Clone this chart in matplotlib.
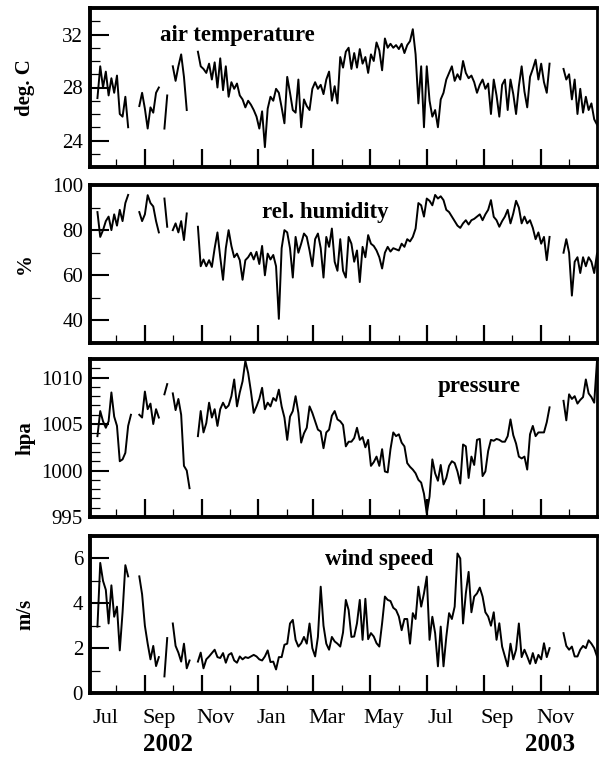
import numpy as np
import pandas as pd
import matplotlib
matplotlib.use('Agg')
import matplotlib.pyplot as plt
import matplotlib.dates as mdates
from matplotlib.ticker import MultipleLocator, NullFormatter
from matplotlib.transforms import blended_transform_factory

plt.rcParams['font.family'] = ['Liberation Serif', 'DejaVu Serif']

nan = np.nan
# samples every 3 days starting 2002-07-03
start = '2002-07-03'
step = '3D'

air_temp = [
    nan, nan, nan, 27.2, 29.6, 28.0, 29.2, 27.4, 28.7, 27.6,
    28.9, 26.0, 25.8, 27.3, 25.0, nan, nan, nan, 26.6, 27.6,
    26.4, 24.9, 26.5, 26.1, 27.6, 28.0, nan, 24.9, 27.4, nan,
    29.6, 28.5, 29.6, 30.5, 28.8, 26.3, nan, nan, nan, 30.7,
    29.6, 29.4, 29.1, 29.8, 28.6, 29.9, 28.0, 30.2, 27.8, 29.6,
    27.3, 28.4, 27.9, 28.3, 27.4, 27.1, 26.5, 27.0, 26.7, 26.3,
    25.8, 24.9, 26.2, 23.5, 26.4, 27.3, 27.0, 27.9, 27.6, 26.5,
    25.3, 28.8, 27.6, 26.3, 26.1, 28.6, 25.0, 27.1, 26.6, 26.3,
    27.9, 28.4, 27.9, 28.2, 27.5, 28.6, 29.2, 27.0, 28.1, 26.8,
    30.3, 29.5, 30.7, 31.0, 29.4, 30.6, 29.5, 30.9, 29.8, 30.3,
    29.1, 30.5, 30.0, 31.4, 30.8, 29.3, 31.7, 31.0, 31.3, 31.0,
    31.2, 30.9, 31.3, 30.6, 31.2, 31.5, 32.4, 30.5, 26.8, 29.6,
    25.0, 29.6, 27.0, 25.8, 26.3, 25.0, 27.1, 27.6, 28.6, 29.1,
    29.6, 28.5, 29.0, 28.6, 30.0, 29.1, 28.7, 28.9, 28.4, 27.6,
    28.2, 28.6, 27.9, 28.3, 26.0, 28.6, 27.4, 25.8, 28.2, 28.6,
    26.3, 28.6, 27.5, 26.0, 28.1, 29.6, 27.7, 26.5, 28.8, 29.4,
    30.1, 28.6, 29.8, 28.4, 27.6, 29.8, nan, nan, nan, nan,
    29.4, 28.6, 29.0, 27.1, 28.6, 26.0, 27.9, 26.1, 27.3, 26.3,
    26.8, 25.6, 25.2,
]

rel_humidity = [
    nan, nan, nan, 88, 77, 80, 84, 86, 80, 87,
    82, 89, 84, 92, 95.6, nan, nan, nan, 88, 84,
    87, 95.5, 92, 90.5, 84, 79, nan, 94, 81.5, nan,
    80, 83, 79, 84, 75.6, 87.4, nan, nan, nan, 81.5,
    64, 67, 64, 66.7, 63.7, 72, 79, 68, 58, 72,
    80, 73, 68, 69.6, 66.7, 58, 66.7, 68, 70, 67,
    70.4, 65, 73, 60, 69.6, 67, 69, 64, 40.7, 72,
    80, 79, 72, 59, 77, 70, 74, 78.5, 77, 71,
    64, 76, 78.5, 72, 59, 77, 72.6, 80.7, 66, 62,
    76, 62, 59, 77, 74, 66, 71, 57, 72.6, 68,
    77.8, 74, 73, 71, 68, 63, 70, 72.6, 70.5, 72,
    71.5, 71, 74, 72.6, 76, 75, 77, 80.7, 92, 91,
    86, 94, 93, 91, 95.6, 94, 95, 93.3, 89, 88,
    86, 84, 82, 81, 83, 84.4, 82.5, 84.4, 85, 86,
    87, 84.4, 87, 89, 93.3, 85.9, 84.4, 81.5, 84, 86,
    89, 83, 87.4, 93, 90, 83, 86, 83, 84.4, 81,
    76, 79, 74, 77, 66.7, 77, nan, nan, nan, nan,
    70, 76, 70, 51, 66, 68, 61, 68, 64, 68,
    66, 61, 69.6,
]

pressure = [
    nan, nan, nan, 1003.7, 1006.4, 1005.3, 1004.6, 1005.3, 1008.4, 1005.8,
    1004.8, 1001.0, 1001.2, 1001.9, 1004.8, 1006.0, nan, nan, 1006.0, 1005.7,
    1008.5, 1006.6, 1007.2, 1005.0, 1006.6, 1005.7, nan, 1008.2, 1009.3, nan,
    1008.3, 1006.5, 1007.7, 1006.0, 1000.5, 1000.0, 998.1, nan, nan, 1003.7,
    1006.4, 1004.1, 1005.1, 1007.3, 1005.7, 1006.6, 1004.8, 1006.6, 1007.3, 1006.7,
    1007.0, 1008.0, 1009.8, 1006.9, 1008.4, 1009.6, 1011.8, 1010.5, 1008.5, 1006.2,
    1006.9, 1007.7, 1008.9, 1006.6, 1007.3, 1006.9, 1007.8, 1007.5, 1008.7, 1006.9,
    1005.7, 1003.3, 1005.8, 1006.4, 1008.0, 1006.2, 1003.0, 1004.0, 1004.6, 1006.9,
    1006.2, 1005.3, 1004.4, 1004.2, 1002.4, 1004.1, 1004.4, 1005.9, 1006.4, 1005.5,
    1005.3, 1004.9, 1002.6, 1003.1, 1003.1, 1003.5, 1004.6, 1003.3, 1003.6, 1002.5,
    1003.3, 1000.5, 1000.9, 1001.5, 1000.5, 1002.3, 999.9, 999.8, 1002.3, 1004.1,
    1003.7, 1003.9, 1003.0, 1002.6, 1000.8, 1000.4, 1000.1, 999.7, 999.0, 998.7,
    997.5, 995.4, 997.2, 1001.2, 999.7, 998.9, 1000.6, 998.5, 999.2, 1000.5,
    1001.0, 1000.8, 999.9, 998.6, 1002.8, 1002.6, 999.2, 1001.5, 1000.6, 1003.3,
    1003.4, 999.4, 999.9, 1002.1, 1003.3, 1003.2, 1003.4, 1003.3, 1003.1, 1003.1,
    1003.7, 1005.5, 1003.8, 1002.9, 1001.5, 1001.3, 1001.5, 1000.1, 1003.9, 1004.8,
    1003.7, 1004.1, 1004.1, 1004.1, 1005.2, 1006.8, nan, nan, nan, nan,
    1007.5, 1005.4, 1008.2, 1007.7, 1008.0, 1007.2, 1007.6, 1007.9, 1009.8, 1008.3,
    1007.9, 1007.3, 1011.8,
]

wind_speed = [
    nan, nan, nan, 2.96, 5.8, 5.0, 4.6, 3.1, 4.8, 3.4,
    3.85, 1.9, 3.6, 5.7, 5.2, nan, nan, nan, 5.2, 4.4,
    3.0, 2.2, 1.5, 2.1, 1.2, 1.6, nan, 0.74, 2.45, nan,
    3.1, 2.1, 1.8, 1.4, 2.2, 1.1, 1.45, nan, nan, 1.4,
    1.8, 1.1, 1.5, 1.63, 1.78, 1.93, 1.6, 1.56, 1.78, 1.35,
    1.7, 1.78, 1.45, 1.35, 1.63, 1.5, 1.6, 1.56, 1.63, 1.7,
    1.63, 1.5, 1.45, 1.63, 1.9, 1.38, 1.4, 1.05, 1.6, 1.6,
    2.15, 2.2, 3.1, 3.26, 2.37, 2.07, 2.22, 2.5, 2.2, 3.1,
    2.0, 1.63, 2.5, 4.74, 3.0, 2.2, 1.93, 2.5, 2.3, 2.2,
    2.07, 2.7, 4.15, 3.7, 2.5, 2.52, 3.11, 4.15, 2.37, 4.2,
    2.4, 2.67, 2.52, 2.22, 2.07, 3.11, 4.3, 4.15, 4.1, 3.8,
    3.7, 3.41, 2.8, 3.3, 3.3, 2.2, 3.56, 3.3, 4.74, 3.85,
    4.44, 5.19, 2.37, 3.4, 2.67, 1.19, 2.96, 1.19, 2.5, 3.56,
    3.3, 3.85, 6.22, 6.0, 3.1, 4.44, 5.4, 3.6, 4.3, 4.44,
    4.7, 4.3, 3.6, 3.41, 3.0, 3.6, 2.37, 3.11, 2.07, 1.63,
    1.19, 2.2, 1.5, 1.93, 3.1, 1.6, 1.93, 1.63, 1.3, 1.78,
    1.33, 1.7, 1.5, 2.22, 1.6, 2.0, nan, nan, nan, nan,
    2.67, 2.1, 1.93, 2.07, 1.63, 1.63, 1.93, 2.1, 2.0, 2.35,
    2.2, 2.0, 1.63,
]

titles = ['air temperature', 'rel. humidity', 'pressure', 'wind speed']
ylabels = ['deg. C', '%', 'hpa', 'm/s']
ylims = [(22, 34), (30, 100), (995, 1012), (0, 7)]
yticks = [[24, 28, 32], [40, 60, 80, 100], [995, 1000, 1005, 1010], [0, 2, 4, 6]]
yminor = [1, 10, 1, 1]

month_labels = ['Jul', 'Sep', 'Nov', 'Jan', 'Mar', 'May', 'Jul', 'Sep', 'Nov']
month_label_dates = ['2002-07-21', '2002-09-16', '2002-11-16', '2003-01-15', '2003-03-16',
                     '2003-05-16', '2003-07-16', '2003-09-15', '2003-11-16']
year_labels = ['2002', '2003']
year_label_dates = ['2002-09-26', '2003-11-11']

dates = pd.date_range(start, periods=len(air_temp), freq=step)
series = [air_temp, rel_humidity, pressure, wind_speed]

W, H = 599, 757
fig = plt.figure(figsize=(W / 100, H / 100), dpi=100)

# panel boxes in pixels: left, top, right, bottom
boxes = [(90, 8, 597, 167), (90, 185, 597, 343), (90, 359, 597, 517), (90, 536, 597, 693)]
title_pos = [(0.291, 0.827), (0.4635, 0.826), (0.768, 0.829), (0.571, 0.853)]

axes = []
for i, (l, t, r, b) in enumerate(boxes):
    ax = fig.add_axes([l / W, 1 - b / H, (r - l) / W, (b - t) / H])
    ax.plot(dates, series[i], color='black', lw=1.4)
    ax.set_xlim(pd.Timestamp('2002-07-04'), pd.Timestamp('2003-12-31'))
    ax.set_ylim(*ylims[i])
    ax.set_yticks(yticks[i])
    ax.yaxis.set_minor_locator(MultipleLocator(yminor[i]))
    ax.xaxis.set_major_locator(mdates.MonthLocator(bymonth=[1, 3, 5, 7, 9, 11]))
    ax.xaxis.set_minor_locator(mdates.MonthLocator())
    ax.xaxis.set_major_formatter(NullFormatter())
    ax.xaxis.set_minor_formatter(NullFormatter())
    ax.tick_params(which='both', direction='in', top=False, right=False)
    ax.tick_params(axis='y', which='major', length=14, width=1.5, labelsize=15, pad=5)
    ax.tick_params(axis='y', which='minor', length=7, width=0.9)
    ax.tick_params(axis='x', which='major', length=13, width=1.6)
    ax.tick_params(axis='x', which='minor', length=6, width=0.9)
    for side in ['left', 'top', 'bottom']:
        ax.spines[side].set_linewidth(2.8)
    ax.spines['right'].set_linewidth(2.0)
    ax.text(*title_pos[i], titles[i], transform=ax.transAxes, ha='center', va='center',
            fontsize=16.5, fontweight='bold')
    fig.text(25 / W, 1 - ((t + b) / 2) / H, ylabels[i], rotation=90, ha='center', va='center',
             fontsize=15, fontweight='bold')
    axes.append(ax)

ax = axes[-1]
trans = blended_transform_factory(ax.transData, ax.transAxes)
for lab, d in zip(month_labels, month_label_dates):
    ax.text(mdates.date2num(pd.Timestamp(d)), -0.16, lab, transform=trans,
            ha='center', va='center', fontsize=16)
for lab, d in zip(year_labels, year_label_dates):
    ax.text(mdates.date2num(pd.Timestamp(d)), -0.325, lab, transform=trans,
            ha='center', va='center', fontsize=18, fontweight='bold')

fig.savefig('out.png', dpi=100)
